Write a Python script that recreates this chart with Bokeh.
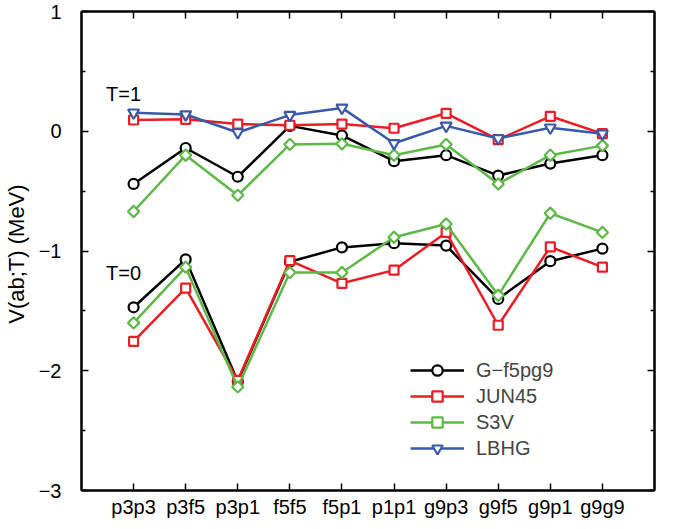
from bokeh.plotting import figure
from bokeh.models import FixedTicker, LinearAxis, Legend, LegendItem, Range1d
from bokeh.embed import file_html
from bokeh.resources import INLINE
from bokeh.core.properties import value

# ---- data ----
categories = ["p3p3", "p3f5", "p3p1", "f5f5", "f5p1", "p1p1", "g9p3", "g9f5", "g9p1", "g9g9"]

gf_t1 = [-0.44, -0.14, -0.38, 0.045, -0.035, -0.25, -0.20, -0.37, -0.27, -0.20]
jun_t1 = [0.094, 0.10, 0.06, 0.05, 0.06, 0.025, 0.15, -0.07, 0.125, -0.02]
s3v_t1 = [-0.67, -0.20, -0.535, -0.11, -0.105, -0.20, -0.11, -0.44, -0.20, -0.12]
lbhg_t1 = [0.155, 0.14, -0.01, 0.135, 0.195, -0.10, 0.045, -0.06, 0.03, -0.02]

gf_t0 = [-1.47, -1.07, -2.09, -1.09, -0.97, -0.935, -0.955, -1.40, -1.085, -0.98]
jun_t0 = [-1.755, -1.31, -2.08, -1.08, -1.27, -1.16, -0.845, -1.62, -0.965, -1.135]
s3v_t0 = [-1.60, -1.135, -2.135, -1.18, -1.18, -0.885, -0.775, -1.37, -0.685, -0.845]

series_names = ["G\u2212f5pg9", "JUN45", "S3V", "LBHG"]

y_ticks = [-3, -2, -1, 0, 1]
y_tick_labels = ["\u22123", "\u22122", "\u22121", "0", "1"]
y_minor = [-2.5, -1.5, -0.5, 0.5]

t_labels = ["T=1", "T=0"]
t_label_x = [-0.53, -0.53]
t_label_y = [0.31, -1.18]

FONT = "Liberation Sans"
FS = "20px"

xs = list(range(len(categories)))

p = figure(width=667, height=520, x_range=Range1d(-1, 10), y_range=Range1d(-3, 1),
           output_backend="svg", toolbar_location=None,
           min_border_left=76, min_border_right=13, min_border_top=11, min_border_bottom=26)
p.grid.visible = False
p.outline_line_color = "black"
p.outline_line_width = 2
p.background_fill_color = "white"
p.border_fill_color = "white"

p.xaxis.ticker = FixedTicker(ticks=xs)
p.xaxis.major_label_overrides = {i: c for i, c in enumerate(categories)}
p.xaxis.minor_tick_line_color = None
p.xaxis.major_label_standoff = 5

p.yaxis.ticker = FixedTicker(ticks=y_ticks, minor_ticks=y_minor)
p.yaxis.major_label_overrides = {t: l for t, l in zip(y_ticks, y_tick_labels)}
p.yaxis.major_label_standoff = 20
p.yaxis.axis_label = "V(ab;T)  (MeV)"
p.yaxis.axis_label_standoff = 7

for ax in p.axis:
    ax.major_tick_in = 7
    ax.major_tick_out = 0
    ax.minor_tick_in = 4
    ax.minor_tick_out = 0
    ax.axis_line_width = 2
    ax.major_tick_line_width = 1.5
    ax.minor_tick_line_width = 1.5
    ax.major_label_text_font = FONT
    ax.major_label_text_font_size = FS
    ax.major_label_text_color = "black"
    ax.axis_label_text_font = FONT
    ax.axis_label_text_font_size = "22px"
    ax.axis_label_text_font_style = "normal"
    ax.axis_label_text_color = "black"

top = LinearAxis(ticker=FixedTicker(ticks=xs), major_label_text_font_size="1px",
                 major_label_text_color=None,
                 major_label_standoff=0, major_tick_in=7, major_tick_out=0,
                 minor_tick_line_color=None, axis_line_width=2, major_tick_line_width=1.5)
p.add_layout(top, "above")
right = LinearAxis(ticker=FixedTicker(ticks=y_ticks, minor_ticks=y_minor),
                   major_label_text_font_size="1px", major_label_text_color=None,
                   major_label_standoff=0,
                   major_tick_in=7, major_tick_out=0, minor_tick_in=4, minor_tick_out=0,
                   axis_line_width=2, major_tick_line_width=1.5, minor_tick_line_width=1.5)
p.add_layout(right, "right")

styles = [
    dict(color="#000000", marker="circle", size=10, angle=0.0),
    dict(color="#ED1C24", marker="square", size=9, angle=0.0),
    dict(color="#5DB847", marker="square", size=8, angle=0.785398),
    dict(color="#3A59A8", marker="inverted_triangle", size=11, angle=0.0),
]
t1_data = [gf_t1, jun_t1, s3v_t1, lbhg_t1]
t0_data = [gf_t0, jun_t0, s3v_t0, None]

items = []
for name, st, d1, d0 in zip(series_names, styles, t1_data, t0_data):
    rends = []
    for d in (d1, d0):
        if d is None:
            continue
        ln = p.line(xs, d, line_color=st["color"], line_width=2.5)
        sc = p.scatter(xs, d, marker=st["marker"], size=st["size"], angle=st["angle"],
                       line_color=st["color"], line_width=2.2, fill_color="white")
        if not rends:
            rends = [ln, sc]
    items.append(LegendItem(label=name, renderers=rends))

p.text(x=t_label_x, y=t_label_y, text=t_labels, text_font=value(FONT), text_font_size=FS,
       text_baseline="middle", text_align="left", text_color="black")

legend = Legend(items=items, location=(329, 29), glyph_width=54, glyph_height=26,
                label_height=26, spacing=0, padding=0, margin=0,
                border_line_color=None, background_fill_alpha=0,
                label_text_font=FONT, label_text_font_size=FS, label_standoff=12)
p.add_layout(legend, "center")

open("out.html", "w").write(file_html(p, INLINE))
